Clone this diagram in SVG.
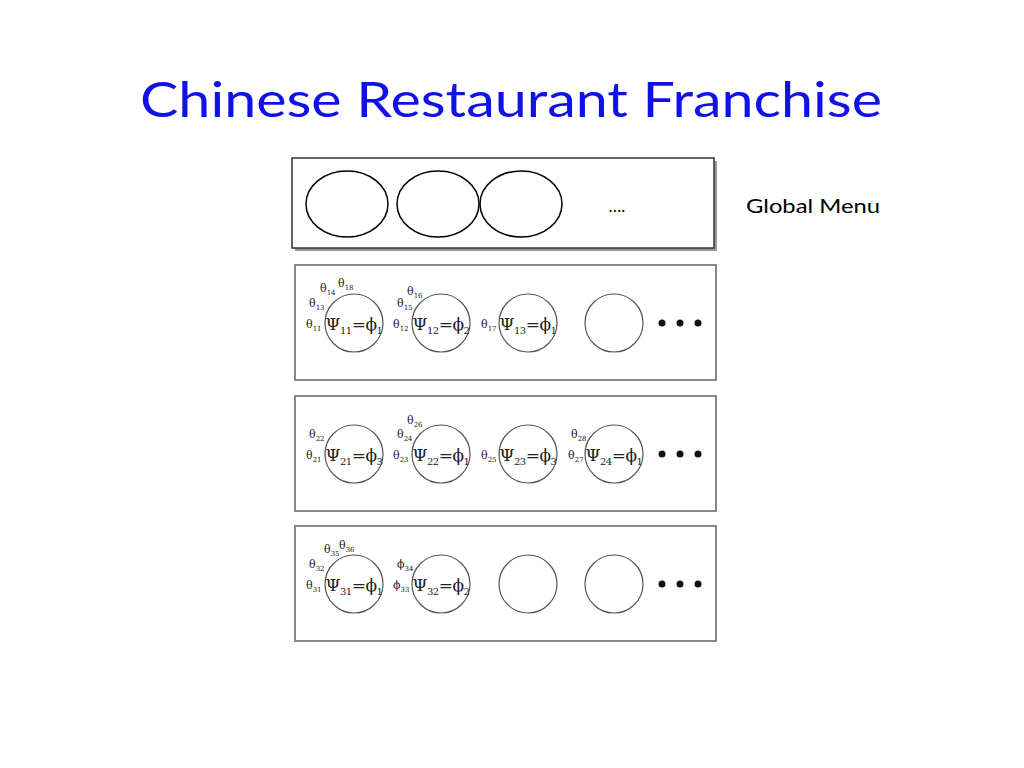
<svg xmlns="http://www.w3.org/2000/svg" width="1024" height="768" viewBox="0 0 1024 768">
<style>
.box{fill:#fff;stroke:#888;stroke-width:2}
.c{fill:#fff;stroke:#555;stroke-width:1.2}
.t{font-family:"DejaVu Serif",serif;font-size:11px;fill:#222}
.s{font-size:7px}
.p{font-family:"DejaVu Serif",serif;font-size:17px;fill:#222;text-anchor:middle;letter-spacing:-0.5px}
.ps{font-size:10px}
.d{fill:#111}
.sans{font-family:Lato,"Liberation Sans",sans-serif}
</style>
<rect width="1024" height="768" fill="#fff"/>
<text class="sans" x="511" y="117" text-anchor="middle" font-size="48" fill="#1010e8" textLength="742" lengthAdjust="spacingAndGlyphs">Chinese Restaurant Franchise</text>
<g id="global-menu">
<rect x="295" y="161" width="422" height="90" fill="#999"/>
<rect x="292" y="158" width="422" height="90" fill="#fff" stroke="#333" stroke-width="1.5"/>
<ellipse cx="347" cy="204" rx="41" ry="33" fill="#fff" stroke="#000" stroke-width="1.5"/>
<ellipse cx="438" cy="204" rx="41" ry="33" fill="#fff" stroke="#000" stroke-width="1.5"/>
<ellipse cx="521" cy="204" rx="41" ry="33" fill="#fff" stroke="#000" stroke-width="1.5"/>
<text class="sans" x="617" y="212" text-anchor="middle" font-size="17">….</text>
<text class="sans" x="746" y="213" font-size="19" textLength="134" lengthAdjust="spacingAndGlyphs">Global Menu</text>
</g>
<g id="restaurant-1">
<rect class="box" x="295" y="265" width="421" height="115"/>
<circle class="c" cx="354" cy="323" r="29"/><circle class="c" cx="441" cy="323" r="29"/><circle class="c" cx="528" cy="323" r="29"/><circle class="c" cx="614" cy="323" r="29"/>
<circle class="d" cx="662" cy="323" r="3.5"/><circle class="d" cx="680" cy="323" r="3.5"/><circle class="d" cx="698" cy="323" r="3.5"/>
<text class="p" x="354" y="330">Ψ<tspan class="ps" dy="4">11</tspan><tspan dy="-4">=ϕ</tspan><tspan class="ps" dy="4">1</tspan></text>
<text class="p" x="441" y="330">Ψ<tspan class="ps" dy="4">12</tspan><tspan dy="-4">=ϕ</tspan><tspan class="ps" dy="4">2</tspan></text>
<text class="p" x="528" y="330">Ψ<tspan class="ps" dy="4">13</tspan><tspan dy="-4">=ϕ</tspan><tspan class="ps" dy="4">1</tspan></text>
<text class="t" x="306" y="328">θ<tspan class="s" dy="3">11</tspan></text>
<text class="t" x="309" y="307">θ<tspan class="s" dy="3">13</tspan></text>
<text class="t" x="320" y="292">θ<tspan class="s" dy="3">14</tspan></text>
<text class="t" x="338" y="287">θ<tspan class="s" dy="3">18</tspan></text>
<text class="t" x="393" y="328">θ<tspan class="s" dy="3">12</tspan></text>
<text class="t" x="397" y="307">θ<tspan class="s" dy="3">15</tspan></text>
<text class="t" x="407" y="295">θ<tspan class="s" dy="3">16</tspan></text>
<text class="t" x="481" y="328">θ<tspan class="s" dy="3">17</tspan></text>
</g>
<g id="restaurant-2">
<rect class="box" x="295" y="396" width="421" height="115"/>
<circle class="c" cx="354" cy="454" r="29"/><circle class="c" cx="441" cy="454" r="29"/><circle class="c" cx="528" cy="454" r="29"/><circle class="c" cx="614" cy="454" r="29"/>
<circle class="d" cx="662" cy="454" r="3.5"/><circle class="d" cx="680" cy="454" r="3.5"/><circle class="d" cx="698" cy="454" r="3.5"/>
<text class="p" x="354" y="461">Ψ<tspan class="ps" dy="4">21</tspan><tspan dy="-4">=ϕ</tspan><tspan class="ps" dy="4">3</tspan></text>
<text class="p" x="441" y="461">Ψ<tspan class="ps" dy="4">22</tspan><tspan dy="-4">=ϕ</tspan><tspan class="ps" dy="4">1</tspan></text>
<text class="p" x="528" y="461">Ψ<tspan class="ps" dy="4">23</tspan><tspan dy="-4">=ϕ</tspan><tspan class="ps" dy="4">3</tspan></text>
<text class="p" x="614" y="461">Ψ<tspan class="ps" dy="4">24</tspan><tspan dy="-4">=ϕ</tspan><tspan class="ps" dy="4">1</tspan></text>
<text class="t" x="306" y="459">θ<tspan class="s" dy="3">21</tspan></text>
<text class="t" x="309" y="438">θ<tspan class="s" dy="3">22</tspan></text>
<text class="t" x="393" y="459">θ<tspan class="s" dy="3">23</tspan></text>
<text class="t" x="397" y="438">θ<tspan class="s" dy="3">24</tspan></text>
<text class="t" x="407" y="424">θ<tspan class="s" dy="3">26</tspan></text>
<text class="t" x="481" y="459">θ<tspan class="s" dy="3">25</tspan></text>
<text class="t" x="568" y="459">θ<tspan class="s" dy="3">27</tspan></text>
<text class="t" x="571" y="438">θ<tspan class="s" dy="3">28</tspan></text>
</g>
<g id="restaurant-3">
<rect class="box" x="295" y="526" width="421" height="115"/>
<circle class="c" cx="354" cy="584" r="29"/><circle class="c" cx="441" cy="584" r="29"/><circle class="c" cx="528" cy="584" r="29"/><circle class="c" cx="614" cy="584" r="29"/>
<circle class="d" cx="662" cy="584" r="3.5"/><circle class="d" cx="680" cy="584" r="3.5"/><circle class="d" cx="698" cy="584" r="3.5"/>
<text class="p" x="354" y="591">Ψ<tspan class="ps" dy="4">31</tspan><tspan dy="-4">=ϕ</tspan><tspan class="ps" dy="4">1</tspan></text>
<text class="p" x="441" y="591">Ψ<tspan class="ps" dy="4">32</tspan><tspan dy="-4">=ϕ</tspan><tspan class="ps" dy="4">2</tspan></text>
<text class="t" x="306" y="589">θ<tspan class="s" dy="3">31</tspan></text>
<text class="t" x="309" y="568">θ<tspan class="s" dy="3">32</tspan></text>
<text class="t" x="324" y="553">θ<tspan class="s" dy="3">35</tspan></text>
<text class="t" x="339" y="549">θ<tspan class="s" dy="3">36</tspan></text>
<text class="t" x="393" y="589">ϕ<tspan class="s" dy="3">33</tspan></text>
<text class="t" x="397" y="568">ϕ<tspan class="s" dy="3">34</tspan></text>
</g>
<g id="connectors"/>
</svg>
